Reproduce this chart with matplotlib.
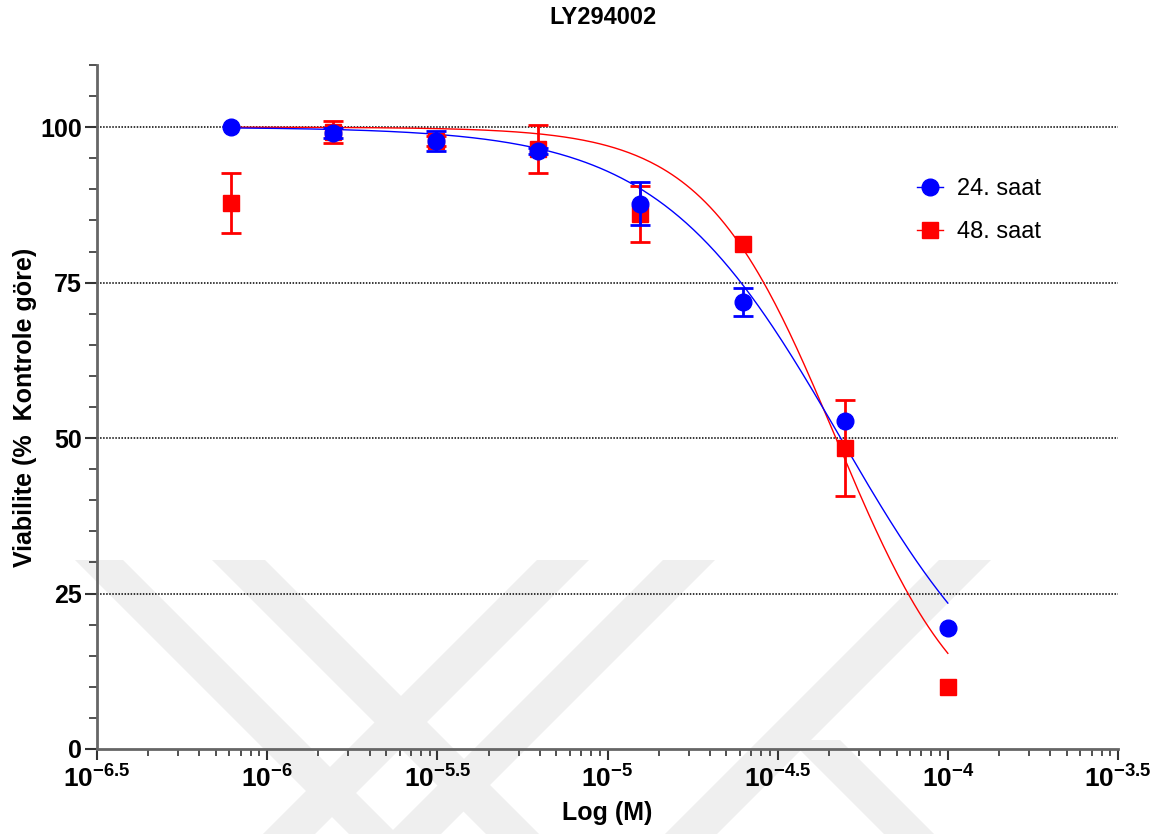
import numpy as np
import matplotlib
matplotlib.use("Agg")
import matplotlib.pyplot as plt
from matplotlib.lines import Line2D
from matplotlib.patches import Polygon
from matplotlib.ticker import FixedLocator, NullFormatter

plt.rcParams['font.family'] = ['Liberation Sans', 'DejaVu Sans']
plt.rcParams['mathtext.fontset'] = 'custom'
plt.rcParams['mathtext.rm'] = 'Liberation Sans:bold'
plt.rcParams['mathtext.bf'] = 'Liberation Sans:bold'

# concentrations (M)
conc = [7.8125e-7, 1.5625e-6, 3.125e-6, 6.25e-6, 1.25e-5, 2.5e-5, 5e-5, 1e-4]

# viability, % of control
mean_24 = [100.0, 99.0, 97.8, 96.2, 87.7, 71.9, 52.8, 19.4]
sem_24 = [0.0, 0.8, 1.6, 0.5, 3.5, 2.2, 0.0, 0.0]
mean_48 = [87.8, 99.2, 97.8, 96.5, 86.0, 81.2, 48.4, 10.0]
sem_48 = [4.8, 1.8, 0.8, 3.9, 4.5, 0.0, 7.7, 0.0]

# sigmoidal dose-response fits (top, bottom, logIC50, hill slope)
fit_24 = (100.0, 0.0, -4.315, 1.63)
fit_48 = (100.0, 0.0, -4.329, 2.25)

xtick_exp = [-6.5, -6, -5.5, -5, -4.5, -4, -3.5]
xtick_labels = ['-6.5', '-6', '-5.5', '-5', '-4.5', '-4', '-3.5']
ytick_vals = [0, 25, 50, 75, 100]


def dose_response(logx, top, bottom, logic50, hill):
    return bottom + (top - bottom) / (1 + 10 ** ((logx - logic50) * hill))


def draw_series(ax, x, y, err, color, marker, ms, z):
    x, y, err = np.array(x), np.array(y), np.array(err)
    has_err = err > 0
    ax.errorbar(x[has_err], y[has_err], yerr=err[has_err], fmt='none', ecolor=color,
                elinewidth=2, capsize=7, capthick=2, zorder=z)
    ax.plot(x, y, ls='none', marker=marker, ms=ms, color=color, zorder=z + 0.5)


fig = plt.figure(figsize=(11.63, 8.34), dpi=100)
W, H = 1163, 834

# faint background logo bands (pixel coords: top y, x left, x right, direction)
bands = [(560, 75, 123, 1), (560, 212, 265, 1), (560, 537, 589, -1),
         (560, 663, 715, -1), (560, 939, 991, -1), (740, 790, 840, 1)]
for ytop, xl, xr, d in bands:
    dy = H - ytop
    pts = [(xl, ytop), (xr, ytop), (xr + d * dy, H), (xl + d * dy, H)]
    pts = [(px / W, 1 - py / H) for px, py in pts]
    fig.add_artist(Polygon(pts, closed=True, transform=fig.transFigure,
                           facecolor='#efefef', edgecolor='none', zorder=-5))

ax = fig.add_axes([97 / W, 1 - 749 / H, (1118 - 97) / W, (749 - 65) / H])
ax.set_facecolor('none')
ax.set_xscale('log')
ax.set_xlim(10 ** -6.5, 10 ** -3.5)
ax.set_ylim(0, 110)

for yv in [25, 50, 75, 100]:
    ax.axhline(yv, color='black', ls=(0, (1, 1)), lw=1.1, zorder=1)

logc = np.log10(conc)
xs = np.linspace(logc[0], logc[-1], 300)
ax.plot(10 ** xs, dose_response(xs, *fit_48), color='red', lw=1, zorder=2)
ax.plot(10 ** xs, dose_response(xs, *fit_24), color='blue', lw=1, zorder=2)

draw_series(ax, conc, mean_48, sem_48, 'red', 's', 12, 3)
draw_series(ax, conc, mean_24, sem_24, 'blue', 'o', 12, 4)

# ticks
ax.xaxis.set_major_locator(FixedLocator([10.0 ** e for e in xtick_exp]))
ax.set_xticklabels([r'$\mathbf{10^{%s}}$' % s for s in xtick_labels])
minor = []
for a in xtick_exp[:-1]:
    for k in range(2, 10):
        minor.append(10 ** (a + 0.5 * np.log10(k)))
ax.xaxis.set_minor_locator(FixedLocator(minor))
ax.xaxis.set_minor_formatter(NullFormatter())

ax.yaxis.set_major_locator(FixedLocator(ytick_vals))
ax.yaxis.set_minor_locator(FixedLocator(np.arange(5, 111, 5)))
ax.set_yticklabels([str(v) for v in ytick_vals], fontsize=18, fontweight='bold')

ax.tick_params(axis='x', which='major', length=8, width=1.5, color='#333333',
               labelsize=19, pad=4)
ax.tick_params(axis='x', which='minor', length=5, width=1.2, color='#333333')
ax.tick_params(axis='y', which='major', length=9, width=1.5, color='#333333', pad=2)
ax.tick_params(axis='y', which='minor', length=6, width=1.2, color='#333333')

for s in ['top', 'right']:
    ax.spines[s].set_visible(False)
for s in ['left', 'bottom']:
    ax.spines[s].set_color('#666666')
    ax.spines[s].set_linewidth(2)

ax.set_xlabel('Log (M)', fontsize=18, fontweight='bold', labelpad=6)
ax.set_ylabel('Viabilite (%  Kontrole göre)', fontsize=18, fontweight='bold', labelpad=2)
fig.text(603 / W, 1 - 17 / H, 'LY294002', ha='center', va='center',
         fontsize=17, fontweight='bold')

handles = [Line2D([], [], color='blue', marker='o', ms=12, lw=1),
           Line2D([], [], color='red', marker='s', ms=11, lw=1)]
ax.legend(handles, ['24. saat', '48. saat'], loc='upper left',
          bbox_to_anchor=(0.782, 0.866), frameon=False, fontsize=17,
          handlelength=1.1, handletextpad=0.6, labelspacing=0.9)

fig.savefig('out.png', dpi=100)
